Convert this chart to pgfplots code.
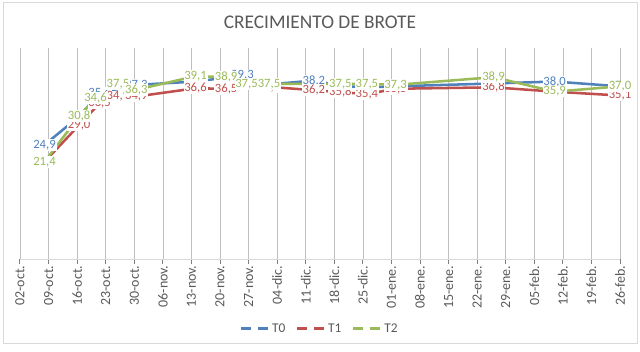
\documentclass[border=0pt]{standalone}
\usepackage{pgfplots}
\pgfplotsset{compat=1.18}
\usepackage{pgfplotstable}
\usepackage{fontspec}
\setmainfont{Carlito}
\definecolor{cT0}{HTML}{4F81BD}
\definecolor{cT1}{HTML}{C0504D}
\definecolor{cT2}{HTML}{9BBB59}
\definecolor{txt}{HTML}{595959}
\definecolor{grid}{HTML}{D9D9D9}

\pgfplotstableread{
x y
6 24.9
14.5 30.8
19.5 35.6
28.5 37.3
43 38.0
50.5 38.8
54.5 39.3
61 37.4
72 38.2
78.5 37.1
85 36.8
92 37.0
116 37.6
131 38.0
147 37.0
}\tzero
\pgfplotstableread{
x y
6 21.4
14.5 29.0
19.5 33.5
24 34.9
28.5 34.9
43 36.6
50.5 36.5
61 36.9
72 36.2
78.5 35.8
85 35.4
92 36.5
116 36.8
131 35.9
147 35.1
}\tone
\pgfplotstableread{
x y
6 21.4
14.5 30.8
18.5 34.6
24 37.5
28.5 36.3
43 39.1
50.5 38.9
55.5 37.5
61 37.5
78.5 37.5
85 37.5
92 37.3
116 38.9
131 35.9
147 37.0
}\ttwo

\begin{document}
\begin{tikzpicture}
\path[use as bounding box] (0,0) rectangle (480pt,263.25pt);
\draw[grid, line width=0.75pt] (2.25pt,6pt) rectangle (477.75pt,261pt);
\node[text=txt, font=\fontsize{14.5}{16}\selectfont] at (240pt,246.5pt) {CRECIMIENTO DE BROTE};
\begin{axis}[
  at={(15pt,69pt)}, anchor=south west,
  scale only axis, width=450pt, height=158.5pt,
  xmin=0, xmax=147, ymin=1.3, ymax=45,
  axis x line*=bottom, axis y line=none,
  x axis line style={grid, line width=0.75pt},
  xtick={0,7,...,147},
  xticklabels={02-oct.,09-oct.,16-oct.,23-oct.,30-oct.,06-nov.,13-nov.,20-nov.,27-nov.,04-dic.,11-dic.,18-dic.,25-dic.,01-ene.,08-ene.,15-ene.,22-ene.,29-ene.,05-feb.,12-feb.,19-feb.,26-feb.},
  xticklabel style={rotate=90, anchor=east, text=txt, font=\fontsize{10.5}{11}\selectfont, inner sep=1pt},
  tick style={grid, line width=0.75pt},
  major tick length=3.75pt,
  tick align=outside,
  /pgf/number format/assume math mode=true,
  clip=false,
  legend style={at={(0.5,-0.3300)}, anchor=center, draw=none, fill=none,
    font=\fontsize{10}{11}\selectfont, text=txt, legend columns=3,
    /tikz/every even column/.append style={column sep=6pt},
    inner sep=0pt},
  legend image code/.code={\draw[#1, dash pattern=on 7.5pt off 5.25pt] (0pt,0pt) -- (20.25pt,0pt);},
  every axis plot/.append style={line width=1.9pt},
  lbl/.style={draw=none, mark=none, forget plot, point meta=explicit,
    nodes near coords={\pgfmathprintnumber[fixed,fixed zerofill,precision=1,use comma]{\pgfplotspointmeta}},
    every node near coord/.append style={anchor=center, fill=white, inner sep=0.6pt,
      font=\fontsize{9.5}{10}\selectfont}},
]
\addplot[cT0, no marks] table[x=x,y=y] {\tzero};
\addlegendentry{T0}
\addplot[cT1, no marks] table[x=x,y=y] {\tone};
\addlegendentry{T1}
\addplot[cT2, no marks] table[x=x,y=y] {\ttwo};
\addlegendentry{T2}
\addplot[lbl, every node near coord/.append style={text=cT0}] table[x=x,y=y,meta=y] {\tzero};
\addplot[lbl, every node near coord/.append style={text=cT1}] table[x=x,y=y,meta=y] {\tone};
\addplot[lbl, every node near coord/.append style={text=cT2}] table[x=x,y=y,meta=y] {\ttwo};
\end{axis}
\end{tikzpicture}
\end{document}
